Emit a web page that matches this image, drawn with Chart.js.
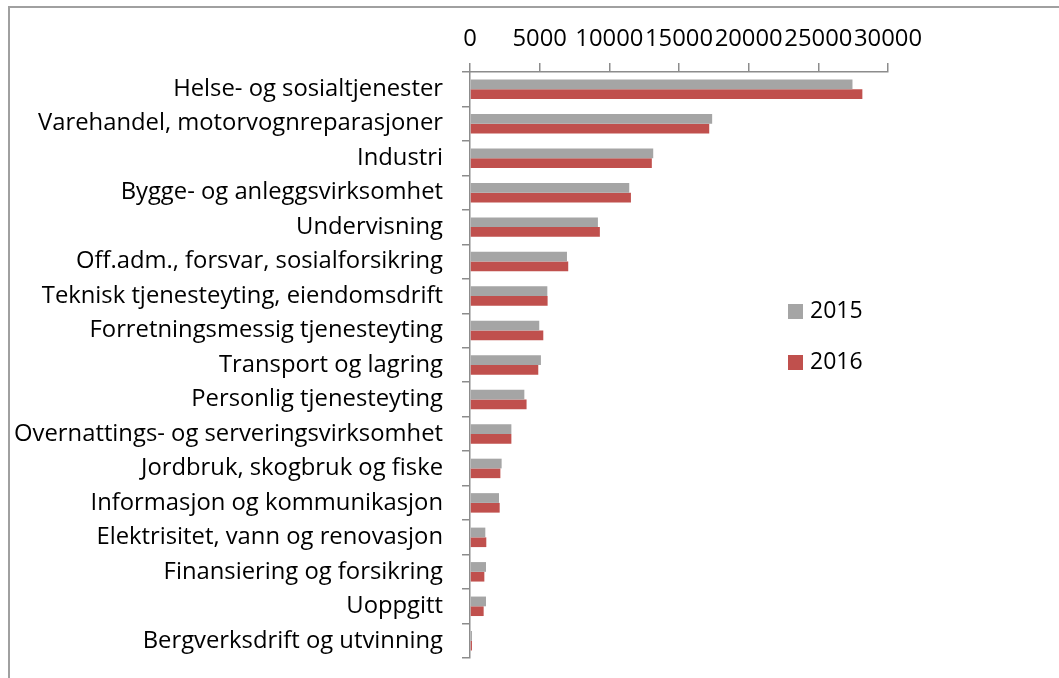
<!DOCTYPE html>
<html>
<head>
<meta charset="utf-8">
<script src="https://cdn.jsdelivr.net/npm/chart.js@4/dist/chart.umd.min.js"></script>
<style>
  html, body { margin: 0; padding: 0; background: #fff; overflow: hidden; }
  #wrap { position: relative; width: 1059px; height: 678px; }
  #frame { position: absolute; left: 8px; top: 6px; width: 2000px; height: 2000px;
           border-left: 2px solid #a0a0a0; border-top: 2px solid #a0a0a0; box-sizing: border-box; }
  canvas { position: absolute; left: 0; top: 0; }
  .leg { position: absolute; font-family: "Open Sans", sans-serif; font-size: 23px; color: #000;
         line-height: 28px; white-space: nowrap; }
  .leg span.box { display: inline-block; width: 15px; height: 15px; margin-right: 7px; vertical-align: -1px; }
</style>
</head>
<body>
<div id="wrap">
  <div id="frame"></div>
  <canvas id="c" width="1059" height="678"></canvas>
</div>
<script>
const categories = [
  "Helse- og sosialtjenester",
  "Varehandel, motorvognreparasjoner",
  "Industri",
  "Bygge- og anleggsvirksomhet",
  "Undervisning",
  "Off.adm., forsvar, sosialforsikring",
  "Teknisk tjenesteyting, eiendomsdrift",
  "Forretningsmessig tjenesteyting",
  "Transport og lagring",
  "Personlig tjenesteyting",
  "Overnattings- og serveringsvirksomhet",
  "Jordbruk, skogbruk og fiske",
  "Informasjon og kommunikasjon",
  "Elektrisitet, vann og renovasjon",
  "Finansiering og forsikring",
  "Uoppgitt",
  "Bergverksdrift og utvinning"
];
const seriesNames = ["2015", "2016"];
const values2015 = [27450, 17380, 13150, 11430, 9180, 6960, 5550, 4970, 5090, 3900, 2970, 2270, 2080, 1100, 1150, 1150, 140];
const values2016 = [28160, 17170, 13050, 11550, 9320, 7050, 5570, 5260, 4900, 4060, 2970, 2180, 2130, 1170, 1030, 980, 140];
const xTicks = [0, 5000, 10000, 15000, 20000, 25000, 30000];

const colors = ["#A5A5A5", "#C0504D"];
const FONT = { family: "'Open Sans', sans-serif", size: 23.8 };
const AXIS = "#8c8c8c";

const chart = new Chart(document.getElementById("c"), {
  type: "bar",
  data: {
    labels: categories,
    datasets: [
      { label: seriesNames[0], data: values2015, backgroundColor: colors[0] },
      { label: seriesNames[1], data: values2016, backgroundColor: colors[1] }
    ]
  },
  options: {
    indexAxis: "y",
    responsive: false,
    devicePixelRatio: 1,
    animation: false,
    categoryPercentage: 0.565,
    barPercentage: 1.0,
    layout: { padding: { left: 0, top: 0, right: 171, bottom: 20 } },
    plugins: { legend: { display: false }, tooltip: { enabled: false } },
    scales: {
      x: {
        position: "top",
        min: xTicks[0],
        max: xTicks[xTicks.length - 1],
        afterBuildTicks: (s) => { s.ticks = xTicks.map(v => ({ value: v })); },
        afterFit: (s) => { s.height = 72; },
        ticks: { color: "#000", font: FONT, padding: 10, maxRotation: 0, autoSkip: false,
                 callback: (v) => String(v) },
        grid: { drawOnChartArea: false, drawTicks: true, tickLength: 9, color: AXIS, lineWidth: 1.5 },
        border: { color: AXIS, width: 1.5 }
      },
      y: {
        afterFit: (s) => { s.width = 470; s.paddingTop = 0; s.paddingBottom = 0; },
        ticks: { color: "#000", font: FONT, padding: 19, autoSkip: false },
        grid: { offset: true, drawOnChartArea: false, drawTicks: true, tickLength: 8, color: AXIS, lineWidth: 1.5 },
        border: { color: AXIS, width: 1.5 }
      }
    }
  }
});

// HTML legend built from the datasets
const legendPos = [{ left: 788, top: 295 }, { left: 788, top: 346 }];
chart.data.datasets.forEach((ds, i) => {
  const d = document.createElement("div");
  d.className = "leg";
  d.style.left = legendPos[i].left + "px";
  d.style.top = legendPos[i].top + "px";
  const b = document.createElement("span");
  b.className = "box";
  b.style.background = ds.backgroundColor;
  d.appendChild(b);
  d.appendChild(document.createTextNode(ds.label));
  document.getElementById("wrap").appendChild(d);
});
</script>
</body>
</html>
